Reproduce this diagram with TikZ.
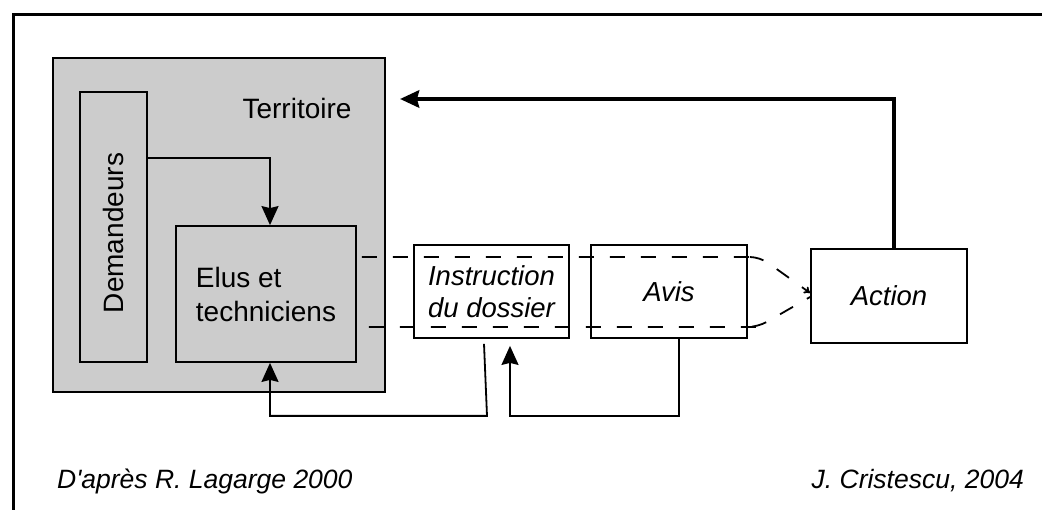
\documentclass[tikz,border=0pt]{standalone}
\usepackage{fontspec}
\setmainfont{Liberation Sans}
\usetikzlibrary{arrows.meta}

\begin{document}
\begin{tikzpicture}[x=1pt,y=-1pt,line width=1.8pt,
        font=\fontsize{28}{34}\selectfont,
        box/.style={draw,inner sep=0pt,align=center},
        slanted/.style={font=\fontsize{27.5}{32}\selectfont\itshape},
        credit/.style={font=\fontsize{26.5}{32}\selectfont\itshape},
        flow/.style={-{Stealth[length=19pt,width=17pt,inset=2pt]}},
        tie/.style={dash pattern=on 15pt off 16pt}]
            \useasboundingbox (0,0) rectangle (1042,510);
            \draw[line width=3pt] (13,510) |- (1042,15);
            \node[box,fill=gray!40,minimum width=332pt,minimum height=334pt] (terr) at (219,225) {};
            \node (terrlbl) at (297,108) {Territoire};
            \node[box,minimum width=67pt,minimum height=270pt] (dem) at (113.5,227) {};
            \node[rotate=90] (demlbl) at (113.5,233) {Demandeurs};
            \node[box,align=left,minimum width=180pt,minimum height=136pt] (elus) at (266,294) {Elus et\\techniciens};
            \node[box,slanted,minimum width=155pt,minimum height=93pt] (instr) at (491.5,291.5) {Instruction\\du dossier};
            \node[box,slanted,minimum width=156pt,minimum height=93pt] (avis) at (669,291.5) {Avis};
            \node[box,slanted,minimum width=156pt,minimum height=94pt] (action) at (889,296) {Action};
            \coordinate (back) at (400,99);
            \draw[flow] ([yshift=69pt]dem.east) -| ([xshift=4pt]elus.north);
            \draw[flow,line width=4.5pt] ([xshift=5pt]action.north) |- (back);
            \draw[tie,rounded corners=10pt,-{To[length=6pt,width=8pt]}] ([shift={(5pt,37pt)}]elus.east) -- ([yshift=34.5pt]avis.east) -- ++(12,0) -- ([yshift=3pt]action.west);
            \draw[tie,rounded corners=10pt] ([shift={(12pt,-33pt)}]elus.east) -- ([yshift=-35.5pt]avis.east) -- ++(10,0) -- ([yshift=-1pt]action.west);
            \draw[flow] ([shift={(-7.5pt,-5pt)}]instr.south) -- ++(3,72) -| ([xshift=4pt]elus.south);
            \draw[flow] ([xshift=10pt]avis.south) -- ++(0,77) -| ([shift={(18.5pt,-7pt)}]instr.south);
            \node[credit,anchor=west] (source) at (53,481) {D\textquotesingle après R. Lagarge 2000};
            \node[credit,anchor=east] (author) at (1028,481) {J. Cristescu, 2004};
        \end{tikzpicture}
\end{document}
